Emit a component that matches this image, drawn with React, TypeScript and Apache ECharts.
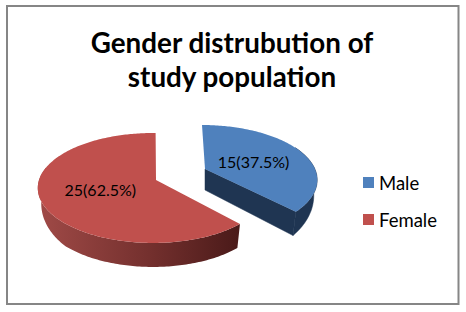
import React, { useEffect, useRef } from "react";
import * as echarts from "echarts";

const categories = ["Male", "Female"];
const counts = [15, 25];
const sliceLabels = ["15(37.5%)", "25(62.5%)"];
const titleLines = ["Gender distrubution of", "study population"];

const total = counts.reduce((a, b) => a + b, 0);
const FONT = "Lato, Carlito, Calibri, sans-serif";

const R = 114;
const S = 53.8;
const K = 0.145;
const CX = 153;
const CY = 180;
const RING = 0.97;

const sliceGeom = [
  { ox: 49, oy: -8, apexX: 205, apexY: 169, rotA: 0, rotB: -3, wallDepth: 24, cutDepth: 21, labelDx: 1 },
  { ox: 0, oy: 0, apexX: 156, apexY: 180, rotA: 2, rotB: 1.5, wallDepth: 24, cutDepth: 0, labelDx: 2 },
];

function project(deg: number, r: number) {
  const t = (deg * Math.PI) / 180;
  const u = Math.sin(t) * r;
  const v = -Math.cos(t) * r;
  const w = 1 - K * v;
  return [CX + (R * u) / w, CY + (S * v) / w];
}

function App() {
  const ref = useRef<HTMLDivElement>(null);
  useEffect(() => {
    const chart = echarts.init(ref.current!, undefined, { renderer: "svg" });
    const renderSlice = (index: number) => (params: any, api: any) => {
      const before = counts.slice(0, index).reduce((a, b) => a + b, 0);
      const g = sliceGeom[index];
      const a0 = (before / total) * 360 + g.rotA;
      const a1 = ((before + api.value(0)) / total) * 360 + g.rotB;
      const angles: number[] = [];
      for (let a = a0; a < a1; a += 1) angles.push(a);
      angles.push(a1);
      const top = (a: number) => {
        const p = project(a, 1);
        return [p[0] + g.ox, p[1] + g.oy];
      };
      const bottom = (a: number) => {
        const p = project(a, 1);
        const d = g.wallDepth * Math.min(1, 0.55 + 0.65 * Math.max(0, -Math.cos((a * Math.PI) / 180)));
        return [CX + (p[0] - CX) * RING + g.ox, p[1] + g.oy + d];
      };
      const arc = angles.map(top);
      const vis = angles.filter((a) => a > 60 && a < 285);
      const wall = vis.map(top).concat(vis.slice().reverse().map(bottom));
      const mid = (a0 + a1) / 2;
      const lp = project(mid, 0.5);
      const children: any[] = [];
      if (index === 0) {
        const tip = top(a1);
        const tipLow = bottom(a1);
        children.push({
          type: "polygon",
          shape: {
            points: [
              [g.apexX, g.apexY],
              tip,
              tipLow,
              [g.apexX, g.apexY + g.cutDepth],
            ],
          },
          style: { fill: "#1F3552", stroke: "#1F3552", lineWidth: 0.5 },
        });
        children.push({
          type: "polygon",
          shape: { points: wall },
          style: { fill: "#1F3552", stroke: "#1F3552", lineWidth: 0.5 },
        });
      } else {
        children.push({
          type: "polygon",
          shape: { points: wall },
          style: {
            fill: new echarts.graphic.LinearGradient(1, 0, 0, 0, [
              { offset: 0, color: "#4A1A19" },
              { offset: 0.45, color: "#74302E" },
              { offset: 1, color: "#A04A47" },
            ]),
          },
        });
      }
      children.push({
        type: "polygon",
        shape: { points: [[g.apexX, g.apexY], ...arc] },
        style: { fill: index === 0 ? "#4F81BD" : "#C0504D" },
      });
      children.push({
        type: "text",
        style: {
          x: lp[0] + g.ox + g.labelDx,
          y: lp[1] + g.oy,
          text: sliceLabels[index],
          fill: "#000",
          font: `16px ${FONT}`,
          align: "center",
          verticalAlign: "middle",
        },
      });
      return { type: "group", children };
    };
    chart.setOption({
      animation: false,
      color: ["#4F81BD", "#C0504D"],
      title: {
        text: titleLines.join("\n"),
        left: 227,
        top: 20,
        textAlign: "center",
        textStyle: {
          fontFamily: FONT,
          fontWeight: "bold",
          fontSize: 27.8,
          lineHeight: 34,
          color: "#000",
        },
      },
      legend: {
        orient: "vertical",
        left: 363,
        top: 173,
        padding: 0,
        icon: "rect",
        itemWidth: 11,
        itemHeight: 11,
        itemGap: 18,
        selectedMode: false,
        data: categories,
        textStyle: { fontFamily: FONT, fontSize: 18.5, color: "#000" },
      },
      graphic: [
        {
          type: "rect",
          silent: true,
          shape: { x: 7, y: 6, width: 451.5, height: 298 },
          style: { fill: "none", stroke: "#868686", lineWidth: 2 },
        },
      ],
      series: categories.map((name, i) => ({
        type: "custom",
        name,
        coordinateSystem: "none",
        silent: true,
        clip: false,
        itemStyle: { color: i === 0 ? "#4F81BD" : "#C0504D" },
        data: [[counts[i]]],
        renderItem: renderSlice(i),
      })),
    });
    return () => chart.dispose();
  }, []);
  return (
    <div
      ref={ref}
      style={{ position: "absolute", left: 0, top: 0, width: 466, height: 312, background: "#fff" }}
    />
  );
}

export default App;
